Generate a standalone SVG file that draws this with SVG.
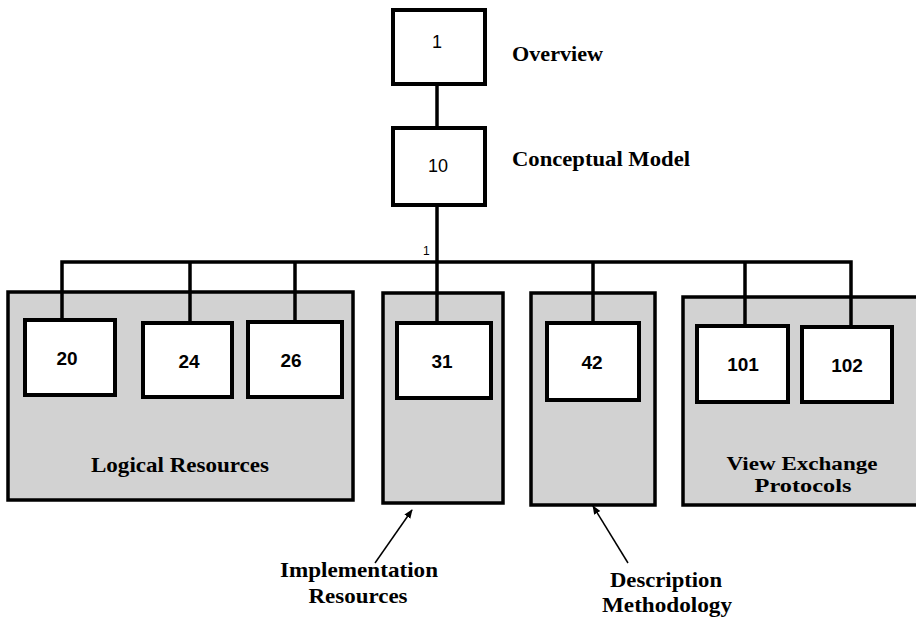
<svg xmlns="http://www.w3.org/2000/svg" width="916" height="617" viewBox="0 0 916 617">
<style>
.box{fill:#fff;stroke:#000;stroke-width:4}
.panel{fill:#d2d2d2;stroke:#000;stroke-width:3.5}
.num{font-family:"Liberation Sans",Arial,sans-serif;font-size:19px;font-weight:bold;text-anchor:middle;fill:#000}
.numr{font-family:"Liberation Sans",Arial,sans-serif;font-size:18px;text-anchor:middle;fill:#000}
.lbl{font-family:"Liberation Serif","Times New Roman",serif;font-size:21px;font-weight:bold;fill:#000}
.sm{font-size:18px}
.ctr{text-anchor:middle}
.wire{fill:none;stroke:#000;stroke-width:3.5}
.arrow{fill:none;stroke:#000;stroke-width:1.5}
</style>
<defs>
<marker id="ah" viewBox="0 0 10 10" refX="9" refY="5" markerWidth="9" markerHeight="9" markerUnits="userSpaceOnUse" orient="auto">
<path d="M0,1 L10,5 L0,9 Z" fill="#000"/>
</marker>
</defs>
<rect width="916" height="617" fill="#fff"/>
<g id="panels">
<g id="panel-logical"><rect class="panel" x="8" y="292" width="345" height="208"/><text class="lbl ctr" x="180" y="472" textLength="178" lengthAdjust="spacingAndGlyphs">Logical Resources</text></g>
<g id="panel-implementation"><rect class="panel" x="383" y="293" width="120" height="210"/></g>
<g id="panel-description"><rect class="panel" x="531" y="293" width="124" height="212"/></g>
<g id="panel-view"><rect class="panel" x="683" y="297" width="240" height="208"/><text class="lbl sm ctr" x="802" y="470" textLength="151" lengthAdjust="spacingAndGlyphs">View Exchange</text><text class="lbl sm ctr" x="803" y="492" textLength="97" lengthAdjust="spacingAndGlyphs">Protocols</text></g>
</g>
<g id="connectors">
<line class="wire" x1="437" y1="84" x2="437" y2="128"/>
<line class="wire" x1="437" y1="205" x2="437" y2="323"/>
<polyline class="wire" points="62,320 62,262 851,262 851,327"/>
<line class="wire" x1="190" y1="262" x2="190" y2="323"/>
<line class="wire" x1="295" y1="262" x2="295" y2="322"/>
<line class="wire" x1="593" y1="262" x2="593" y2="323"/>
<line class="wire" x1="745" y1="262" x2="745" y2="326"/>
<line class="arrow" x1="375" y1="563" x2="412" y2="510" marker-end="url(#ah)"/>
<line class="arrow" x1="628" y1="563" x2="593" y2="506" marker-end="url(#ah)"/>
<text x="423" y="255" style="font-family:'Liberation Sans',Arial,sans-serif;font-size:12px">1</text>
</g>
<g id="node-1"><rect class="box" x="393" y="10" width="92" height="74"/><text class="numr" x="437" y="48">1</text></g>
<g id="node-10"><rect class="box" x="393" y="128" width="92" height="77"/><text class="numr" x="438" y="172">10</text></g>
<g id="node-20"><rect class="box" x="25" y="320" width="90" height="75"/><text class="num" x="67" y="365">20</text></g>
<g id="node-24"><rect class="box" x="143" y="323" width="89" height="74"/><text class="num" x="189" y="368">24</text></g>
<g id="node-26"><rect class="box" x="248" y="322" width="94" height="75"/><text class="num" x="291" y="367">26</text></g>
<g id="node-31"><rect class="box" x="397" y="323" width="94" height="75"/><text class="num" x="442" y="368">31</text></g>
<g id="node-42"><rect class="box" x="547" y="323" width="92" height="77"/><text class="num" x="592" y="369">42</text></g>
<g id="node-101"><rect class="box" x="697" y="326" width="91" height="76"/><text class="num" x="743" y="371">101</text></g>
<g id="node-102"><rect class="box" x="802" y="327" width="90" height="75"/><text class="num" x="847" y="372">102</text></g>
<g id="labels">
<text class="lbl" x="512" y="61" textLength="91" lengthAdjust="spacingAndGlyphs">Overview</text>
<text class="lbl" x="512" y="166" textLength="178" lengthAdjust="spacingAndGlyphs">Conceptual Model</text>
<text class="lbl ctr" x="359" y="577" textLength="158" lengthAdjust="spacingAndGlyphs">Implementation</text>
<text class="lbl ctr" x="358" y="603" textLength="99" lengthAdjust="spacingAndGlyphs">Resources</text>
<text class="lbl ctr" x="666" y="587" textLength="112" lengthAdjust="spacingAndGlyphs">Description</text>
<text class="lbl ctr" x="667" y="612" textLength="130" lengthAdjust="spacingAndGlyphs">Methodology</text>
</g>
</svg>
